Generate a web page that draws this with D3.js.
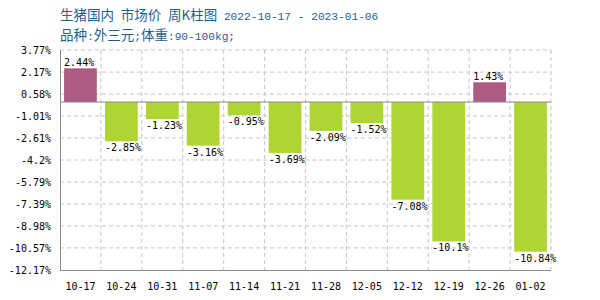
<!DOCTYPE html>
<html><head><meta charset="utf-8">
<script src="https://cdn.jsdelivr.net/npm/d3@7/dist/d3.min.js"></script>
<style>body{margin:0;background:#fff}svg{display:block}</style>
</head><body>
<svg id="c" width="600" height="300"></svg>
<script>
const categories = ["10-17","10-24","10-31","11-07","11-14","11-21","11-28","12-05","12-12","12-19","12-26","01-02"];
const values = [2.44,-2.85,-1.23,-3.16,-0.95,-3.69,-2.09,-1.52,-7.08,-10.1,1.43,-10.84];
const yTicks = [3.77,2.17,0.58,-1.01,-2.61,-4.2,-5.79,-7.39,-8.98,-10.57,-12.17];
const titleParts = [["生猪国内","cjk"],[" ","lat"],["市场价","cjk"],[" ","lat"],["周K柱图","cjk"],[" 2022-10-17 - 2023-01-06","lat"]];
const subtitleParts = [["品种","cjk"],[":","lat"],["外三元","cjk"],[";","lat"],["体重","cjk"],[":90-100kg;","lat"]];

const svg = d3.select("#c");
const L = 60, R = 551, T = 50, B = 270;
const mono = "'DejaVu Sans Mono', 'Liberation Mono', monospace";
const y = d3.scaleLinear().domain([yTicks[yTicks.length-1], yTicks[0]]).range([B, T]);
const x = d3.scaleBand().domain(categories).range([L, R]).paddingInner(0.2).paddingOuter(0.1);

// horizontal grid
svg.append("g").selectAll("line").data(yTicks.slice(0,-1)).join("line")
  .attr("x1",L).attr("x2",R).attr("y1",d=>y(d)).attr("y2",d=>y(d))
  .attr("stroke","#c6c6c6").attr("stroke-dasharray","4,3");
// vertical grid at band boundaries
const bx = d => x(d)+x.bandwidth()+x.step()*x.paddingOuter();
svg.append("g").selectAll("line").data(categories).join("line")
  .attr("x1",bx).attr("x2",bx)
  .attr("y1",T).attr("y2",B)
  .attr("stroke","#c6c6c6").attr("stroke-dasharray","4,3");

// bars
svg.append("g").selectAll("rect").data(values).join("rect")
  .attr("x",(d,i)=>x(categories[i]))
  .attr("width",x.bandwidth())
  .attr("y",d=>y(Math.max(0,d)))
  .attr("height",d=>Math.abs(y(d)-y(0)))
  .attr("fill",d=>d>=0?"#ad5a85":"#add633");

// zero line and axes
svg.append("line").attr("x1",L).attr("x2",R).attr("y1",y(0)).attr("y2",y(0)).attr("stroke","#8a8a8a");
svg.append("line").attr("x1",L+0.5).attr("x2",L+0.5).attr("y1",T).attr("y2",B).attr("stroke","#8a8a8a");
svg.append("line").attr("x1",L).attr("x2",R).attr("y1",B+0.5).attr("y2",B+0.5).attr("stroke","#8a8a8a");

// value labels
svg.append("g").selectAll("text").data(values).join("text")
  .attr("x",(d,i)=>x(categories[i]))
  .attr("y",d=>d>=0? y(d)-2 : y(d)+10)
  .attr("font-family",mono).attr("font-size",10).attr("fill","#000")
  .text(d=>d+"%");

// y tick labels
svg.append("g").selectAll("text").data(yTicks).join("text")
  .attr("x",51).attr("y",d=>y(d)+4).attr("text-anchor","end")
  .attr("font-family",mono).attr("font-size",10).attr("fill","#000")
  .text(d=>d+"%");

// x labels
svg.append("g").selectAll("text").data(categories).join("text")
  .attr("x",d=>x(d)+x.bandwidth()/2).attr("y",290).attr("text-anchor","middle")
  .attr("font-family",mono).attr("font-size",10).attr("fill","#000")
  .text(d=>d);

// titles
function titled(parts, yy){
  const t = svg.append("text").attr("x",60).attr("y",yy).attr("fill","#1f5f8e").style("white-space","pre");
  parts.forEach(([s,k])=>{
    t.append("tspan").text(s)
     .attr("font-family", k==="cjk" ? "'Noto Sans CJK SC'" : "'Liberation Mono', monospace")
     .attr("font-size", k==="cjk" ? 13.5 : 11.2);
  });
}
titled(titleParts, 20);
titled(subtitleParts, 40);
</script>
</body></html>
